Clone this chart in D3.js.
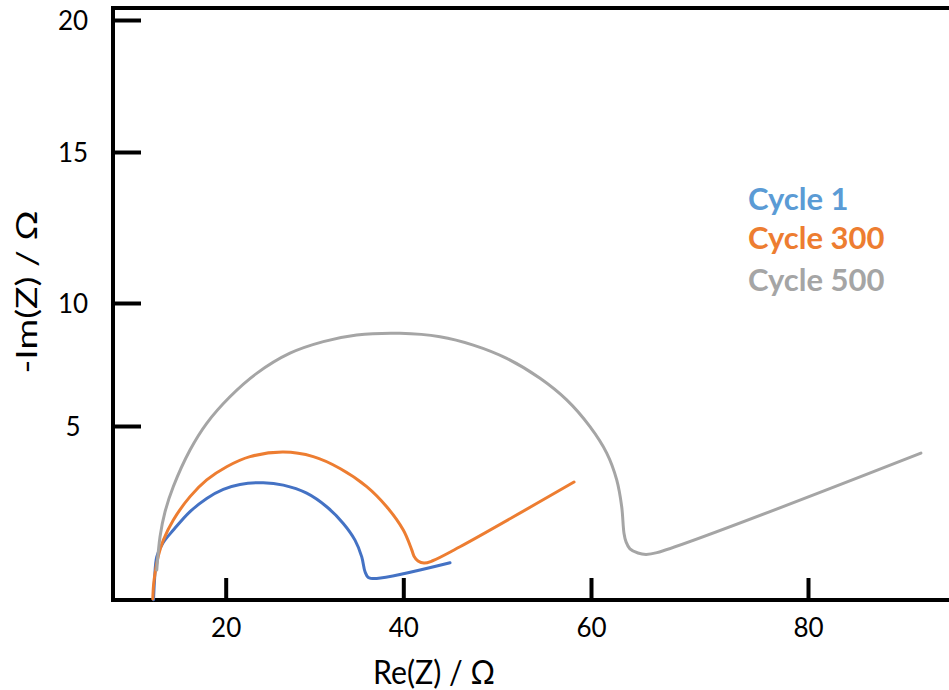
<!DOCTYPE html>
<html>
<head>
<meta charset="utf-8">
<script src="https://cdn.jsdelivr.net/npm/d3@7"></script>
<style>
  html, body { margin: 0; padding: 0; background: #fff; }
  svg { display: block; font-family: Lato, "Open Sans", sans-serif; }
</style>
</head>
<body>
<svg id="chart" width="949" height="690"></svg>
<script>
// ---- data (Re(Z), -Im(Z)) in ohms ----
const cycle1Re = [11.87, 11.98, 12.23, 12.91, 14.10, 15.98, 17.86, 19.73, 21.61, 24.23, 26.49, 29.12, 31.37, 33.24, 34.56, 35.32, 35.69, 36.06, 37.00, 44.98];
const cycle1Im = [0.01, 0.57, 1.24, 1.63, 2.01, 2.54, 2.92, 3.18, 3.32, 3.37, 3.30, 3.07, 2.68, 2.20, 1.72, 1.24, 0.81, 0.65, 0.62, 1.07];

const cycle300Re = [11.78, 11.87, 12.04, 12.43, 12.97, 14.10, 15.98, 17.86, 20.11, 22.74, 26.49, 29.86, 32.87, 35.88, 38.13, 40.00, 40.90, 41.14, 41.57, 42.21, 43.06, 46.04, 58.19];
const cycle300Im = [0.03, 0.43, 0.77, 1.29, 1.72, 2.30, 2.97, 3.45, 3.83, 4.12, 4.25, 4.12, 3.78, 3.26, 2.68, 2.01, 1.44, 1.26, 1.12, 1.06, 1.12, 1.53, 3.39];

const cycle500Re = [12.23, 12.60, 13.16, 14.10, 15.98, 17.86, 20.48, 23.49, 27.24, 30.99, 34.75, 39.63, 43.91, 47.46, 51.02, 54.57, 57.41, 59.89, 61.45, 62.37, 62.83, 63.04, 63.23, 63.59, 64.33, 65.07, 66.08, 90.41];
const cycle500Im = [0.86, 1.82, 2.53, 3.26, 4.31, 5.11, 6.19, 7.14, 7.96, 8.43, 8.70, 8.77, 8.63, 8.29, 7.75, 6.94, 6.06, 4.98, 4.22, 3.45, 2.68, 1.92, 1.67, 1.47, 1.35, 1.31, 1.36, 4.22];

const seriesNames = ["Cycle 1", "Cycle 300", "Cycle 500"];
const lineColors = ["#4472C4", "#ED7D31", "#A5A5A5"];
const legendColors = ["#5B9BD5", "#ED7D31", "#A5A5A5"];

const xTicks = [20, 40, 60, 80];
const yTicks = [5, 10, 15, 20];
const xLabel = "Re(Z) / Ω";
const yLabel = "-Im(Z) / Ω";

// ---- scales (tick marks on the original figure are unevenly spaced) ----
const x = d3.scaleLinear()
  .domain([7.3, 20, 40, 60, 80, 93])
  .range([113, 225.7, 403.3, 591, 808, 949]);
const y = d3.scaleLinear()
  .domain([0, 5, 10, 15, 20, 20.45])
  .range([600, 426, 303, 152, 20, 8]);

const svg = d3.select("#chart");

// top frame line
svg.append("line")
  .attr("x1", x.range()[0]).attr("x2", x.range()[x.range().length - 1])
  .attr("y1", y.range()[y.range().length - 1]).attr("y2", y.range()[y.range().length - 1])
  .attr("stroke", "#000").attr("stroke-width", 4);

// x axis
const gx = svg.append("g")
  .attr("transform", `translate(0,${y(0)})`)
  .call(d3.axisBottom(x).tickValues(xTicks).tickSize(-22).tickSizeOuter(0).tickPadding(0));
gx.select(".domain").attr("stroke-width", 4).attr("d", `M${x.range()[0] - 2},0H${x.range()[x.range().length - 1]}`);
gx.selectAll(".tick line").attr("stroke-width", 4);
gx.selectAll(".tick text")
  .attr("font-family", "Lato, sans-serif").attr("font-size", 26).attr("fill", "#000")
  .attr("y", 37).attr("dy", 0);

// y axis
const gy = svg.append("g")
  .attr("transform", `translate(${x.range()[0]},0)`)
  .call(d3.axisLeft(y).tickValues(yTicks).tickSize(-28).tickSizeOuter(0));
gy.select(".domain").attr("stroke-width", 4)
  .attr("d", `M0,${y.range()[0] + 2}V${y.range()[y.range().length - 1] - 2}`);
gy.selectAll(".tick line").attr("stroke-width", 4);
gy.selectAll(".tick text")
  .attr("font-family", "Lato, sans-serif").attr("font-size", 26).attr("fill", "#000")
  .attr("text-anchor", "middle").attr("x", -40).attr("dy", "0.38em");

// axis titles
svg.append("text")
  .attr("x", 434).attr("y", 684)
  .attr("text-anchor", "middle")
  .attr("font-size", 32)
  .attr("textLength", 122).attr("lengthAdjust", "spacingAndGlyphs")
  .text(xLabel);

svg.append("text")
  .attr("transform", "translate(37,292) rotate(-90)")
  .attr("text-anchor", "middle")
  .attr("font-size", 28)
  .attr("textLength", 163).attr("lengthAdjust", "spacingAndGlyphs")
  .text(yLabel);

// lines
const series = [
  cycle1Re.map((r, i) => [r, cycle1Im[i]]),
  cycle300Re.map((r, i) => [r, cycle300Im[i]]),
  cycle500Re.map((r, i) => [r, cycle500Im[i]])
];
const line = d3.line()
  .x(d => x(d[0])).y(d => y(d[1]))
  .curve(d3.curveCatmullRom.alpha(0.5));

svg.append("g").selectAll("path")
  .data(series)
  .join("path")
  .attr("d", line)
  .attr("fill", "none")
  .attr("stroke", (d, i) => lineColors[i])
  .attr("stroke-width", 3)
  .attr("stroke-linejoin", "round")
  .attr("stroke-linecap", "round");

// legend
const legendBaselines = [210, 249, 291];
svg.append("g").selectAll("text")
  .data(seriesNames)
  .join("text")
  .attr("x", 748)
  .attr("y", (d, i) => legendBaselines[i])
  .attr("font-size", 31)
  .attr("font-weight", "bold")
  .attr("fill", (d, i) => legendColors[i])
  .text(d => d);
</script>
</body>
</html>
